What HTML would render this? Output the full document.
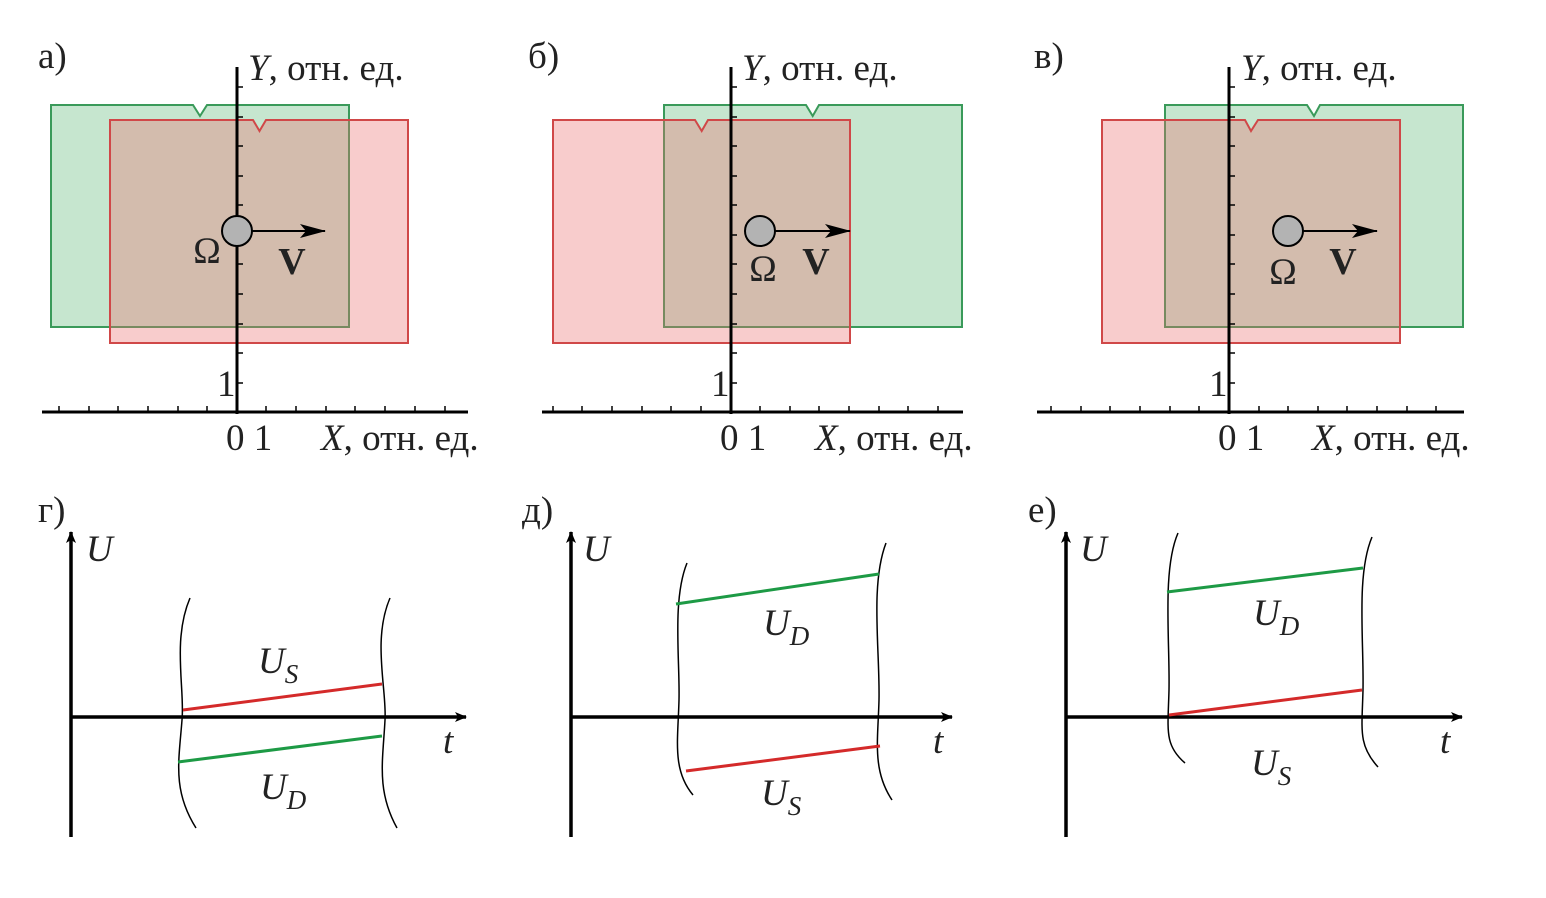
<!DOCTYPE html>
<html><head><meta charset="utf-8"><style>
html,body{margin:0;padding:0;background:#fff;}
svg{display:block;}
text{font-family:"Liberation Serif",serif;fill:#222;}
</style></head><body>
<svg width="1546" height="898" viewBox="0 0 1546 898" xmlns="http://www.w3.org/2000/svg">
<defs>
<marker id="ar" markerWidth="12" markerHeight="10" refX="11" refY="5" orient="auto" markerUnits="userSpaceOnUse">
<path d="M0,0 L12,5 L0,10 L3,5 Z" fill="#000"/></marker>
<marker id="ar2" markerWidth="26" markerHeight="14" refX="25" refY="7" orient="auto" markerUnits="userSpaceOnUse">
<path d="M0,0 L26,7 L0,14 L6,7 Z" fill="#000"/></marker>
</defs>

<!-- ===== Panel a ===== -->
<text x="38" y="68" font-size="37">а)</text>
<path d="M51,105 H193 L200,116 L207,105 H349 V327 H51 Z" fill="rgba(120,195,140,0.42)" stroke="#3a9a5a" stroke-width="2"/>
<path d="M110,120 H253 L259.5,131 L266,120 H408 V343 H110 Z" fill="rgba(235,110,110,0.35)" stroke="#d04848" stroke-width="2"/>
<line x1="237" y1="67" x2="237" y2="414" stroke="#000" stroke-width="3"/>
<line x1="42" y1="412" x2="468" y2="412" stroke="#000" stroke-width="3"/>
<path d="M59,412v-6M89,412v-6M118,412v-6M148,412v-6M178,412v-6M207,412v-6M266,412v-6M296,412v-6M326,412v-6M355,412v-6M385,412v-6M415,412v-6M445,412v-6
M237,87h6M237,117h6M237,146h6M237,176h6M237,205h6M237,235h6M237,264h6M237,294h6M237,324h6M237,353h6M237,383h6" stroke="#000" stroke-width="1.5"/>
<line x1="252" y1="231" x2="325" y2="231" stroke="#000" stroke-width="2" marker-end="url(#ar2)"/>
<circle cx="237" cy="231" r="15" fill="#b3b3b3" stroke="#000" stroke-width="2"/>
<text x="207" y="263" font-size="37" text-anchor="middle">Ω</text>
<text x="292" y="274" font-size="38" font-weight="bold" text-anchor="middle">V</text>
<text x="248" y="80" font-size="37"><tspan font-style="italic">Y</tspan>, отн. ед.</text>
<text x="226" y="450" font-size="37">0 1</text>
<text x="321" y="450" font-size="37"><tspan font-style="italic">X</tspan>, отн. ед.</text>
<text x="217" y="396" font-size="37">1</text>

<!-- ===== Panel б ===== -->
<text x="528" y="68" font-size="37">б)</text>
<path d="M664,105 H806 L812.7,116 L819,105 H962 V327 H664 Z" fill="rgba(120,195,140,0.42)" stroke="#3a9a5a" stroke-width="2"/>
<path d="M553,120 H695 L701.7,131 L708,120 H850 V343 H553 Z" fill="rgba(235,110,110,0.35)" stroke="#d04848" stroke-width="2"/>
<line x1="731" y1="67" x2="731" y2="414" stroke="#000" stroke-width="3"/>
<line x1="542" y1="412" x2="963" y2="412" stroke="#000" stroke-width="3"/>
<path d="M553,412v-6M582,412v-6M612,412v-6M642,412v-6M671,412v-6M701,412v-6M760,412v-6M790,412v-6M819,412v-6M849,412v-6M879,412v-6M908,412v-6M938,412v-6
M731,87h6M731,117h6M731,146h6M731,176h6M731,205h6M731,235h6M731,264h6M731,294h6M731,324h6M731,353h6M731,383h6" stroke="#000" stroke-width="1.5"/>
<line x1="775" y1="231" x2="850" y2="231" stroke="#000" stroke-width="2" marker-end="url(#ar2)"/>
<circle cx="760" cy="231" r="15" fill="#b3b3b3" stroke="#000" stroke-width="2"/>
<text x="763" y="281" font-size="37" text-anchor="middle">Ω</text>
<text x="816" y="274" font-size="38" font-weight="bold" text-anchor="middle">V</text>
<text x="742" y="80" font-size="37"><tspan font-style="italic">Y</tspan>, отн. ед.</text>
<text x="720" y="450" font-size="37">0 1</text>
<text x="815" y="450" font-size="37"><tspan font-style="italic">X</tspan>, отн. ед.</text>
<text x="711" y="396" font-size="37">1</text>

<!-- ===== Panel в ===== -->
<text x="1034" y="68" font-size="37">в)</text>
<path d="M1165,105 H1307 L1314,116 L1320,105 H1463 V327 H1165 Z" fill="rgba(120,195,140,0.42)" stroke="#3a9a5a" stroke-width="2"/>
<path d="M1102,120 H1245 L1251,131 L1258,120 H1400 V343 H1102 Z" fill="rgba(235,110,110,0.35)" stroke="#d04848" stroke-width="2"/>
<line x1="1229" y1="67" x2="1229" y2="414" stroke="#000" stroke-width="3"/>
<line x1="1037" y1="412" x2="1464" y2="412" stroke="#000" stroke-width="3"/>
<path d="M1051,412v-6M1081,412v-6M1110,412v-6M1140,412v-6M1170,412v-6M1199,412v-6M1259,412v-6M1288,412v-6M1318,412v-6M1347,412v-6M1377,412v-6M1407,412v-6M1436,412v-6
M1229,87h6M1229,117h6M1229,146h6M1229,176h6M1229,205h6M1229,235h6M1229,264h6M1229,294h6M1229,324h6M1229,353h6M1229,383h6" stroke="#000" stroke-width="1.5"/>
<line x1="1303" y1="231" x2="1377" y2="231" stroke="#000" stroke-width="2" marker-end="url(#ar2)"/>
<circle cx="1288" cy="231" r="15" fill="#b3b3b3" stroke="#000" stroke-width="2"/>
<text x="1283" y="284" font-size="37" text-anchor="middle">Ω</text>
<text x="1343" y="274" font-size="38" font-weight="bold" text-anchor="middle">V</text>
<text x="1241" y="80" font-size="37"><tspan font-style="italic">Y</tspan>, отн. ед.</text>
<text x="1218" y="450" font-size="37">0 1</text>
<text x="1312" y="450" font-size="37"><tspan font-style="italic">X</tspan>, отн. ед.</text>
<text x="1209" y="396" font-size="37">1</text>

<!-- ===== Panel г ===== -->
<text x="38" y="522" font-size="37">г)</text>
<line x1="71" y1="837" x2="71" y2="532" stroke="#000" stroke-width="3.5" marker-end="url(#ar)"/>
<line x1="71" y1="717" x2="466" y2="717" stroke="#000" stroke-width="3.5" marker-end="url(#ar)"/>
<path d="M190,598 C172,640 185,690 182,720 C179,760 172,790 196,828" fill="none" stroke="#000" stroke-width="1.5"/>
<path d="M390,598 C372,640 387,690 385,720 C383,760 376,790 397,828" fill="none" stroke="#000" stroke-width="1.5"/>
<line x1="183" y1="710" x2="382" y2="684" stroke="#d42a2a" stroke-width="3"/>
<line x1="178" y1="762" x2="382" y2="736" stroke="#1d9a45" stroke-width="3"/>
<text x="86" y="561" font-size="37" font-style="italic">U</text>
<text x="443" y="753" font-size="37" font-style="italic">t</text>
<text x="258" y="673" font-size="37" font-style="italic">U<tspan font-size="27" dy="10">S</tspan></text>
<text x="260" y="799" font-size="37" font-style="italic">U<tspan font-size="27" dy="10">D</tspan></text>

<!-- ===== Panel д ===== -->
<text x="522" y="522" font-size="37">д)</text>
<line x1="571" y1="837" x2="571" y2="532" stroke="#000" stroke-width="3.5" marker-end="url(#ar)"/>
<line x1="571" y1="717" x2="952" y2="717" stroke="#000" stroke-width="3.5" marker-end="url(#ar)"/>
<path d="M687,563 C672,600 680,660 679,700 C678,740 672,770 693,795" fill="none" stroke="#000" stroke-width="1.5"/>
<path d="M886,543 C870,585 880,650 879,700 C878,740 872,770 892,800" fill="none" stroke="#000" stroke-width="1.5"/>
<line x1="676" y1="604" x2="879" y2="574" stroke="#1d9a45" stroke-width="3"/>
<line x1="686" y1="771" x2="880" y2="746" stroke="#d42a2a" stroke-width="3"/>
<text x="583" y="561" font-size="37" font-style="italic">U</text>
<text x="933" y="753" font-size="37" font-style="italic">t</text>
<text x="763" y="635" font-size="37" font-style="italic">U<tspan font-size="27" dy="10">D</tspan></text>
<text x="761" y="805" font-size="37" font-style="italic">U<tspan font-size="27" dy="10">S</tspan></text>

<!-- ===== Panel е ===== -->
<text x="1028" y="522" font-size="37">е)</text>
<line x1="1066" y1="837" x2="1066" y2="532" stroke="#000" stroke-width="3.5" marker-end="url(#ar)"/>
<line x1="1066" y1="717" x2="1462" y2="717" stroke="#000" stroke-width="3.5" marker-end="url(#ar)"/>
<path d="M1178,533 C1162,570 1170,640 1169,690 C1168,730 1164,745 1185,763" fill="none" stroke="#000" stroke-width="1.5"/>
<path d="M1372,537 C1356,575 1364,640 1363,690 C1362,730 1358,745 1378,767" fill="none" stroke="#000" stroke-width="1.5"/>
<line x1="1167" y1="592" x2="1363" y2="568" stroke="#1d9a45" stroke-width="3"/>
<line x1="1169" y1="715" x2="1362" y2="690" stroke="#d42a2a" stroke-width="3"/>
<text x="1080" y="561" font-size="37" font-style="italic">U</text>
<text x="1440" y="753" font-size="37" font-style="italic">t</text>
<text x="1253" y="625" font-size="37" font-style="italic">U<tspan font-size="27" dy="10">D</tspan></text>
<text x="1251" y="775" font-size="37" font-style="italic">U<tspan font-size="27" dy="10">S</tspan></text>
</svg>
</body></html>
